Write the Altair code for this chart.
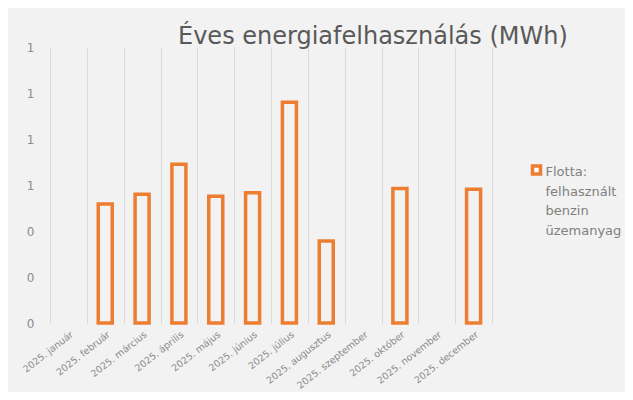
import altair as alt
import pandas as pd

# ---- data ----
months = [
    "2025. január", "2025. február", "2025. március", "2025. április",
    "2025. május", "2025. június", "2025. július", "2025. augusztus",
    "2025. szeptember", "2025. október", "2025. november", "2025. december",
]
values = [None, 0.517, 0.560, 0.690, 0.551, 0.566, 0.960, 0.357, None, 0.585, None, 0.582]
series_name = "Flotta: felhasznált benzin üzemanyag"
y_ticks = [0, 0.2, 0.4, 0.6, 0.8, 1.0, 1.2]
title_text = "Éves energiafelhasználás (MWh)"

legend_lines = series_name.split(" ")

df = pd.DataFrame({"honap": months, "ertek": values, "sorozat": series_name})
leg_df = pd.DataFrame({"sorozat": [series_name]})

ORANGE = "#ED7D31"
BG = "#F2F2F2"
FONT = "DejaVu Sans"

bars = alt.Chart(df).mark_bar(size=14, fill=BG, stroke=ORANGE, strokeWidth=3.5).encode(
    x=alt.X(
        "honap:N",
        sort=months,
        scale=alt.Scale(domain=months, paddingInner=0, paddingOuter=0),
        axis=alt.Axis(
            title=None, grid=True, tickBand="extent", domain=False, ticks=False,
            labelAngle=322, labelAlign="right", labelBaseline="top", labelPadding=6,
            labelFont=FONT, labelFontSize=9.5, labelColor="#8C8C8C",
            gridColor="#D9D9D9", gridWidth=1, labelOverlap=False,
        ),
    ),
    y=alt.Y(
        "ertek:Q",
        scale=alt.Scale(domain=[0, 1.2], nice=False),
        axis=alt.Axis(
            title=None, values=y_ticks, format=".0f", grid=False, domain=False, ticks=False,
            labelPadding=16, labelFont=FONT, labelFontSize=12, labelColor="#8C8C8C",
        ),
    ),
)

leg_sym = alt.Chart(leg_df).mark_square(
    size=64, fill="white", stroke=ORANGE, strokeWidth=3.5, opacity=1
).encode(x=alt.value(486.5), y=alt.value(123))

leg_txt = alt.Chart(leg_df).mark_text(
    align="left", baseline="alphabetic", font=FONT, fontSize=13, lineHeight=19.5, color="#808080"
).encode(x=alt.value(495.5), y=alt.value(129), text=alt.value(legend_lines))

chart = alt.layer(bars, leg_sym, leg_txt).properties(
    width=442,
    height=276,
    title=alt.TitleParams(
        title_text, anchor="start", frame="group", dx=128, dy=27, offset=0,
        baseline="alphabetic", font=FONT, fontSize=24, fontWeight="normal", color="#595959",
    ),
    autosize=alt.AutoSizeParams(type="none"),
    padding={"left": 42, "top": 39, "right": 133, "bottom": 69},
).configure(background=BG).configure_view(stroke=None)

chart.save("out.html", embed_options={"renderer": "svg", "actions": False})
